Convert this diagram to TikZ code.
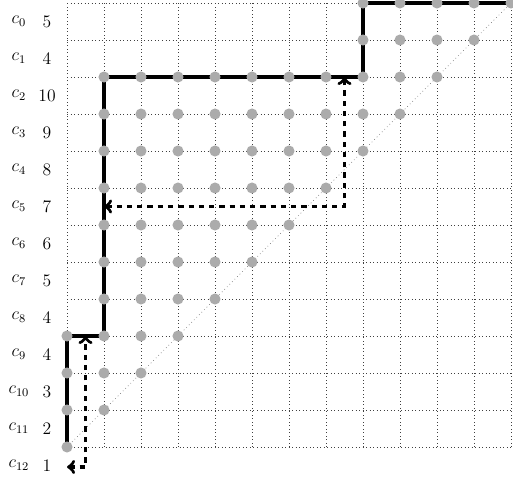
\documentclass[tikz,border=0pt]{standalone}
\usepackage{amsmath, amssymb}
\usepackage{tikz}

\tikzset{
  pathline/.style={line width=2.3pt},
  jumpline/.style={line width=2.3pt, dash pattern=on 3.6pt off 3.4pt, <->},
  latdot/.style={fill=black!33},
}

\begin{document}
\begin{tikzpicture}[scale=0.887, every node/.style={font=\large}]
  \useasboundingbox (-1.811,-0.973) rectangle (12.054,12.081);
  \draw[dotted, black!75, line width=0.4pt] (0,0) grid (12,12);
  \draw[dotted, black!60, line width=0.45pt] (0,0) -- (12,12);
  % row labels
  \node (c0) at (-1.30,11.5) {$c_{0}$};   \node (w0) at (-0.54,11.5) {5};
  \node (c1) at (-1.30,10.5) {$c_{1}$};   \node (w1) at (-0.54,10.5) {4};
  \node (c2) at (-1.30,9.5) {$c_{2}$};    \node (w2) at (-0.54,9.5) {10};
  \node (c3) at (-1.30,8.5) {$c_{3}$};    \node (w3) at (-0.54,8.5) {9};
  \node (c4) at (-1.30,7.5) {$c_{4}$};    \node (w4) at (-0.54,7.5) {8};
  \node (c5) at (-1.30,6.5) {$c_{5}$};    \node (w5) at (-0.54,6.5) {7};
  \node (c6) at (-1.30,5.5) {$c_{6}$};    \node (w6) at (-0.54,5.5) {6};
  \node (c7) at (-1.30,4.5) {$c_{7}$};    \node (w7) at (-0.54,4.5) {5};
  \node (c8) at (-1.30,3.5) {$c_{8}$};    \node (w8) at (-0.54,3.5) {4};
  \node (c9) at (-1.30,2.5) {$c_{9}$};    \node (w9) at (-0.54,2.5) {4};
  \node (c10) at (-1.30,1.5) {$c_{10}$};  \node (w10) at (-0.54,1.5) {3};
  \node (c11) at (-1.30,0.5) {$c_{11}$};  \node (w11) at (-0.54,0.5) {2};
  \node (c12) at (-1.30,-0.5) {$c_{12}$}; \node (w12) at (-0.54,-0.5) {1};
  % staircase path
  \draw[pathline] (0,0) -- (0,3) -- (1,3) -- (1,10) -- (8,10) -- (8,12) -- (12,12);
  % jumps
  \draw[jumpline] (1,6.5) -- (7.5,6.5) -- (7.5,10);
  \draw[jumpline] (0,-0.54) -- (0.5,-0.54) -- (0.5,3);
  % lattice points
  \foreach \k in {0,...,3}
    \foreach \j in {0,...,\k}
      \fill[latdot] (\j,\k) circle (0.15);
  \foreach \k in {4,...,10}
    \foreach \j in {1,...,\k}
      \fill[latdot] (\j,\k) circle (0.15);
  \foreach \k in {11,12}
    \foreach \j in {8,...,\k}
      \fill[latdot] (\j,\k) circle (0.15);
\end{tikzpicture}
\end{document}
